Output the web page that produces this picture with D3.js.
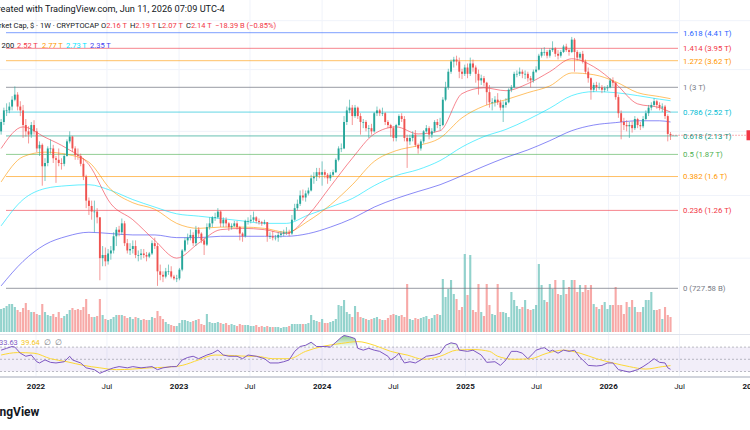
<!DOCTYPE html>
<html>
<head>
<meta charset="utf-8">
<style>
  body { margin: 0; background: #ffffff; }
  svg text { font-family: Roboto, "Noto Sans", sans-serif; }
</style>
<script src="https://d3js.org/d3.v7.min.js"></script>
</head>
<body>
<div id="chart"></div>
<script>

// CRYPTOCAP:TOTAL weekly, values in trillions of $
var firstWeek = "2021-10-04";
var firstOpen = 2.20;

var closes = [
2.35,2.55,2.55,2.62,2.75,2.85,2.62,2.55,2.30,2.20,
2.15,2.30,2.20,1.95,2.00,1.72,1.76,1.95,1.95,1.82,
1.80,1.76,1.75,1.85,2.05,2.12,1.95,1.86,1.85,1.75,
1.60,1.35,1.30,1.25,1.25,1.20,0.90,0.92,0.88,0.93,
0.95,1.05,1.10,1.08,1.15,1.00,0.95,0.96,0.98,0.92,
0.92,0.93,0.92,0.91,0.93,1.00,0.98,0.82,0.80,0.79,
0.82,0.82,0.79,0.78,0.78,0.83,0.95,1.02,1.04,1.06,
1.00,1.10,1.07,1.02,0.99,1.12,1.15,1.20,1.20,1.25,
1.15,1.18,1.15,1.12,1.13,1.15,1.12,1.07,1.05,1.17,
1.17,1.18,1.20,1.17,1.16,1.15,1.16,1.05,1.05,1.04,
1.04,1.06,1.07,1.08,1.08,1.07,1.18,1.28,1.32,1.40,
1.38,1.42,1.45,1.58,1.60,1.65,1.62,1.65,1.62,1.58,
1.62,1.65,1.80,1.95,1.95,2.35,2.55,2.60,2.45,2.60,
2.45,2.35,2.35,2.25,2.25,2.20,2.50,2.55,2.50,2.50,
2.35,2.30,2.25,2.10,2.30,2.45,2.40,2.10,2.05,2.10,
2.15,2.00,1.95,2.05,2.20,2.25,2.15,2.20,2.35,2.30,
2.30,2.75,3.00,3.35,3.60,3.65,3.60,3.35,3.30,3.45,
3.30,3.55,3.45,3.30,3.15,3.20,3.10,2.90,2.70,2.70,
2.75,2.70,2.60,2.65,2.70,2.95,3.00,3.30,3.30,3.35,
3.30,3.30,3.20,3.15,3.35,3.40,3.75,3.85,3.85,3.75,
3.90,3.95,3.80,3.75,3.85,4.00,3.90,3.85,4.20,3.85,
3.70,3.80,3.60,3.35,3.20,2.95,3.05,3.00,3.00,2.95,
2.98,3.00,3.15,3.10,2.80,2.50,2.35,2.30,2.28,2.30,
2.25,2.40,2.30,2.28,2.40,2.50,2.60,2.65,2.72,2.65,
2.60,2.62,2.45,2.16,2.14];

var highs = [
2.40,2.60,2.68,2.70,2.82,3.02,2.90,2.72,2.65,2.40,
2.28,2.35,2.38,2.25,2.05,2.02,1.82,1.98,2.08,2.00,
1.85,1.95,1.82,1.88,2.08,2.20,2.13,1.98,1.95,1.88,
1.82,1.62,1.38,1.35,1.35,1.28,1.20,0.98,0.97,0.96,
0.98,1.08,1.12,1.13,1.19,1.17,1.03,1.00,1.02,1.02,
0.95,0.96,0.96,0.94,0.94,1.02,1.04,1.00,0.86,0.82,
0.84,0.86,0.85,0.80,0.80,0.84,0.96,1.04,1.07,1.10,
1.08,1.13,1.12,1.08,1.04,1.15,1.20,1.21,1.24,1.28,
1.26,1.20,1.20,1.16,1.15,1.17,1.17,1.13,1.08,1.18,
1.20,1.22,1.25,1.21,1.19,1.17,1.18,1.16,1.08,1.09,
1.06,1.08,1.09,1.10,1.12,1.10,1.22,1.32,1.36,1.45,
1.46,1.45,1.48,1.62,1.65,1.70,1.70,1.78,1.68,1.64,
1.65,1.68,1.82,1.98,2.02,2.45,2.62,2.75,2.65,2.65,
2.62,2.50,2.40,2.38,2.30,2.32,2.52,2.62,2.58,2.60,
2.52,2.38,2.32,2.28,2.32,2.48,2.50,2.45,2.15,2.15,
2.20,2.22,2.02,2.08,2.22,2.30,2.28,2.25,2.38,2.40,
2.42,2.80,3.12,3.42,3.65,3.72,3.75,3.70,3.42,3.52,
3.55,3.70,3.65,3.50,3.40,3.28,3.25,3.12,3.05,2.78,
2.82,2.88,2.75,2.72,2.78,2.98,3.05,3.35,3.38,3.45,
3.40,3.38,3.35,3.25,3.40,3.48,3.80,3.95,3.98,3.90,
3.95,4.15,3.98,3.90,3.90,4.05,4.08,3.95,4.28,4.25,
3.90,3.85,3.88,3.65,3.45,3.22,3.10,3.12,3.10,3.05,
3.02,3.05,3.20,3.22,3.12,2.85,2.55,2.42,2.38,2.35,
2.36,2.45,2.42,2.35,2.45,2.55,2.65,2.70,2.78,2.75,
2.70,2.68,2.65,2.48,2.19];

var lows = [
2.15,2.30,2.45,2.50,2.55,2.72,2.55,2.45,2.10,2.12,
2.02,2.10,2.15,1.90,1.85,1.50,1.55,1.72,1.88,1.76,
1.53,1.72,1.68,1.72,1.84,2.02,1.90,1.80,1.80,1.72,
1.56,1.28,1.22,1.18,1.08,1.15,0.77,0.85,0.85,0.86,
0.89,0.93,0.98,1.05,1.06,0.98,0.93,0.92,0.93,0.90,
0.88,0.89,0.90,0.88,0.90,0.92,0.96,0.74,0.77,0.76,
0.78,0.80,0.78,0.77,0.76,0.77,0.82,0.94,0.99,1.02,
0.98,0.98,1.04,1.00,0.92,0.98,1.10,1.12,1.17,1.19,
1.12,1.12,1.12,1.09,1.10,1.12,1.10,1.02,1.01,1.04,
1.14,1.15,1.16,1.15,1.14,1.13,1.14,1.01,1.03,1.02,
1.02,1.01,1.04,1.05,1.06,1.05,1.06,1.17,1.26,1.30,
1.35,1.34,1.40,1.44,1.52,1.55,1.58,1.50,1.58,1.52,
1.55,1.60,1.64,1.78,1.90,1.94,2.30,2.50,2.30,2.42,
2.40,2.15,2.25,2.20,2.10,2.15,2.18,2.45,2.45,2.45,
2.30,2.25,2.12,2.05,2.05,2.28,2.35,2.05,1.70,2.00,
2.05,1.97,1.88,1.92,2.02,2.18,2.08,2.10,2.18,2.25,
2.22,2.28,2.72,2.95,3.30,3.45,3.50,3.20,3.18,3.25,
3.20,3.25,3.35,3.10,2.85,3.05,3.02,2.65,2.60,2.55,
2.62,2.65,2.55,2.35,2.60,2.68,2.90,2.98,3.22,3.25,
3.20,3.18,3.12,3.00,3.10,3.32,3.38,3.70,3.75,3.68,
3.70,3.85,3.72,3.65,3.70,3.82,3.85,3.75,3.82,3.35,
3.62,3.65,3.55,3.30,3.10,2.75,2.90,2.92,2.95,2.88,
2.90,2.92,2.98,3.02,2.75,2.42,2.08,2.22,2.20,2.10,
2.18,2.22,2.25,2.22,2.25,2.38,2.45,2.55,2.62,2.58,
2.55,2.52,2.40,2.05,2.07];

// weekly volume, tens of billions of $
var volumes = [
23,24,26,28,28,25,22,20,24,29,
22,20,20,18,17,28,20,17,16,18,
15,20,14,16,18,22,24,22,23,22,
25,33,18,15,15,16,33,17,13,12,
13,15,17,17,17,16,14,15,13,15,
14,12,13,12,12,15,14,21,16,13,
10,8,7,6,6,9,12,12,11,10,
11,12,13,8,7,18,10,9,9,10,
9,8,9,7,8,7,6,8,7,7,
7,6,6,7,5,6,5,6,5,5,
5,5,4,5,5,6,8,8,8,8,
8,8,9,17,12,11,10,13,9,9,
10,11,13,27,26,32,20,18,15,26,
20,15,14,13,12,13,14,15,13,12,
12,14,17,18,17,16,17,15,48,13,
12,14,13,14,15,16,13,14,17,18,
17,53,35,43,52,38,33,22,25,78,
37,77,22,20,48,20,16,48,27,18,
17,48,20,20,19,15,40,32,26,23,
25,32,23,22,23,27,68,47,32,30,
48,43,52,38,37,52,38,45,52,52,
40,47,40,47,42,47,28,25,23,27,
30,23,27,27,45,27,27,18,30,25,
32,25,20,20,25,32,32,40,22,22,
23,13,25,17,15];

// moving averages, read every 8 weeks (week number from firstWeek)
var maWeeks = [0,8,16,24,32,40,48,56,64,72,80,88,96,104,112,120,128,136,144,152,160,168,176,184,192,200,208,216,224,232,240,244];
var sma20  = [1.95,2.27,2.11,1.95,1.74,1.32,1.18,1.02,0.90,1.00,1.10,1.11,1.10,1.07,1.22,1.49,1.82,2.16,2.27,2.16,2.21,2.87,2.99,2.93,3.08,3.35,3.67,3.47,3.08,2.67,2.60,2.52];
var sma50  = [1.54,1.84,1.90,1.87,1.77,1.46,1.33,1.27,1.15,1.11,1.12,1.12,1.11,1.08,1.17,1.31,1.51,1.78,1.92,1.99,2.10,2.42,2.63,2.75,2.89,3.03,3.32,3.28,3.12,2.89,2.81,2.77];
var sma100 = [1.13,1.36,1.47,1.50,1.51,1.45,1.36,1.29,1.23,1.21,1.19,1.17,1.15,1.15,1.22,1.29,1.37,1.50,1.61,1.68,1.79,1.97,2.12,2.23,2.39,2.59,2.83,2.91,2.89,2.83,2.76,2.73];
var sma200 = [0.74,0.88,0.99,1.05,1.08,1.07,1.06,1.06,1.04,1.04,1.05,1.05,1.05,1.05,1.07,1.12,1.19,1.29,1.37,1.44,1.51,1.61,1.72,1.83,1.93,2.06,2.21,2.30,2.34,2.37,2.37,2.35];

// RSI 14 and its SMA, [week, value]
var rsi = [[0,65],[2,68],[4,71],[5,70],[7,60],[9,55],[11,57],[13,46],[14,44],[16,49],[18,45],[20,44],[23,46],[25,55],[26,49],[29,44],[31,36],[34,33],[36,27],[38,31],[41,36],[43,38],[46,36],[48,38],[51,36],[53,37],[55,38],[57,33],[59,36],[62,38],[64,38],[66,49],[68,53],[70,55],[72,51],[75,57],[77,60],[79,65],[81,57],[83,55],[86,55],[88,51],[90,57],[93,55],[96,51],[98,44],[101,44],[103,46],[105,49],[107,63],[109,71],[111,73],[113,78],[115,71],[118,71],[120,70],[122,78],[124,86],[125,89],[127,87],[129,84],[130,68],[132,65],[134,68],[136,65],[138,63],[141,55],[142,49],[144,55],[145,60],[146,51],[147,44],[149,46],[151,44],[153,49],[155,55],[158,57],[160,60],[162,73],[164,77],[166,75],[167,65],[170,63],[172,65],[175,57],[177,45],[180,46],[182,40],[184,49],[186,63],[188,63],[190,60],[192,51],[194,60],[195,65],[197,68],[198,69],[200,63],[201,65],[203,60],[205,65],[207,63],[209,65],[211,53],[212,49],[214,40],[217,39],[219,40],[221,44],[223,44],[225,33],[227,31],[229,29],[232,33],[234,38],[236,44],[238,51],[240,45],[242,44],[243,36],[244,33.63]];
var rsiMa = [[0,57],[6,61],[12,60],[18,51],[24,46],[30,40],[36,36],[42,33],[48,34],[54,36],[60,37],[66,40],[72,49],[78,57],[85,56],[90,55],[93,55],[99,51],[105,51],[111,63],[117,71],[124,76],[130,79],[136,73],[142,63],[148,57],[154,50],[160,55],[166,65],[172,66],[178,63],[181,55],[187,50],[193,51],[199,60],[205,65],[211,60],[217,51],[223,44],[229,38],[235,34],[241,38],[244,39.64]];

// fibonacci retracement
var fibLevels = ["1.618","1.414","1.272","1","0.786","0.618","0.5","0.382","0.236","0"];
var fibValues = [4.41,3.95,3.62,3,2.52,2.13,1.87,1.6,1.26,0.72758];
var fibColors = ["#2962ff","#f23645","#ff9800","#787b86","#00bcd4","#089981","#4caf50","#ff9800","#f23645","#787b86"];

var tickDates  = ["2022-01-01","2022-07-01","2023-01-01","2023-07-01","2024-01-01","2024-07-01","2025-01-01","2025-07-01","2026-01-01","2026-07-01","2027-01-01"];
var tickLabels = ["2022","Jul","2023","Jul","2024","Jul","2025","Jul","2026","Jul","2027"];
var priceGrid = [4.8, 3.4, 2.2, 1.4, 0.9];

var maValues = ["2.52 T","2.77 T","2.73 T","2.35 T"];
var maColors = ["#f23645","#ff9800","#00e5ff","#3c3cf0"];

var W = 750, H = 430;
var up = "#26a69a", down = "#ef5350";
var fs = 7.5;

var svg = d3.select("#chart").append("svg")
    .attr("width", W)
    .attr("height", H);

var parse = d3.utcParse("%Y-%m-%d");
var t0 = parse(firstWeek);
function weekDate(i) { return d3.utcDay.offset(t0, 7 * i); }

var x = d3.scaleUtc()
    .domain([parse("2022-01-01"), parse("2026-01-01")])
    .range([36, 608.6]);
var y = d3.scaleLog()
    .domain([0.72758, 4.41])
    .range([288.3, 32.7]);
var yVol = d3.scaleLinear().domain([0, 80]).range([332, 252]);
var yRsi = d3.scaleLinear().domain([0, 100]).range([389.8, 328.8]);

var bars = closes.map(function(c, i) {
    return { date: weekDate(i), o: i ? closes[i - 1] : firstOpen, h: highs[i], l: lows[i], c: c, v: volumes[i] };
});

var defs = svg.append("defs");
defs.append("clipPath").attr("id", "clipMain").append("rect")
    .attr("x", 0).attr("y", 0).attr("width", W).attr("height", 333);
defs.append("clipPath").attr("id", "clipRsi").append("rect")
    .attr("x", 0).attr("y", 335).attr("width", W).attr("height", 41);
defs.append("clipPath").attr("id", "clipOB").append("rect")
    .attr("x", 0).attr("y", 335).attr("width", W).attr("height", yRsi(70) - 335);
defs.append("clipPath").attr("id", "clipOS").append("rect")
    .attr("x", 0).attr("y", yRsi(30)).attr("width", W).attr("height", 376 - yRsi(30));

var gOB = defs.append("linearGradient").attr("id", "gradOB")
    .attr("gradientUnits", "userSpaceOnUse").attr("x1", 0).attr("x2", 0)
    .attr("y1", yRsi(100)).attr("y2", yRsi(70));
gOB.append("stop").attr("offset", 0).attr("stop-color", "#4caf50").attr("stop-opacity", 1);
gOB.append("stop").attr("offset", 1).attr("stop-color", "#4caf50").attr("stop-opacity", 0);
var gOS = defs.append("linearGradient").attr("id", "gradOS")
    .attr("gradientUnits", "userSpaceOnUse").attr("x1", 0).attr("x2", 0)
    .attr("y1", yRsi(30)).attr("y2", yRsi(0));
gOS.append("stop").attr("offset", 0).attr("stop-color", "#f23645").attr("stop-opacity", 0);
gOS.append("stop").attr("offset", 1).attr("stop-color", "#f23645").attr("stop-opacity", 1);

// grid
var grid = svg.append("g");
grid.selectAll(".vg").data(tickDates).enter().append("line")
    .attr("x1", d => x(parse(d))).attr("x2", d => x(parse(d)))
    .attr("y1", 0).attr("y2", 376)
    .attr("stroke", "#f0f3fa").attr("stroke-width", 1);
grid.selectAll(".hg").data(priceGrid).enter().append("line")
    .attr("x1", 0).attr("x2", W)
    .attr("y1", d => y(d)).attr("y2", d => y(d))
    .attr("stroke", "#f0f3fa").attr("stroke-width", 1);

var main = svg.append("g").attr("clip-path", "url(#clipMain)");

// volume
main.append("g").selectAll("rect").data(bars).enter().append("rect")
    .attr("x", d => x(d.date) - 1.05)
    .attr("width", 2.1)
    .attr("y", d => yVol(d.v))
    .attr("height", d => yVol(0) - yVol(d.v))
    .attr("fill", d => d.c >= d.o ? up : down)
    .attr("opacity", 0.5);

// fib levels
var fib = main.append("g");
fibValues.forEach(function(v, i) {
    fib.append("line")
        .attr("x1", 6).attr("x2", 678)
        .attr("y1", y(v)).attr("y2", y(v))
        .attr("stroke", fibColors[i])
        .attr("stroke-width", fibLevels[i] == "1" || fibLevels[i] == "0" ? 1.3 : 1)
        .attr("opacity", 0.6);
    var lab = v >= 1 ? v + " T" : (v * 1000).toFixed(2) + " B";
    fib.append("text")
        .attr("x", 683).attr("y", y(v) + 2.8)
        .attr("font-size", 7.8)
        .attr("fill", fibColors[i])
        .text(fibLevels[i] + " (" + lab + ")");
});

// moving averages
function addMa(vals, col) {
    main.append("path")
        .datum(vals)
        .attr("fill", "none")
        .attr("stroke", col)
        .attr("stroke-width", 1)
        .attr("opacity", 0.6)
        .attr("d", d3.line()
            .curve(d3.curveMonotoneX)
            .x((d, i) => x(weekDate(maWeeks[i])))
            .y(d => y(d)));
}
addMa(sma200, maColors[3]);
addMa(sma100, maColors[2]);
addMa(sma50, maColors[1]);
addMa(sma20, maColors[0]);

// candles
var cg = main.append("g");
cg.selectAll("line").data(bars).enter().append("line")
    .attr("x1", d => x(d.date)).attr("x2", d => x(d.date))
    .attr("y1", d => y(d.h)).attr("y2", d => y(d.l))
    .attr("stroke", d => d.c >= d.o ? up : down)
    .attr("stroke-width", 0.6);
cg.selectAll("rect").data(bars).enter().append("rect")
    .attr("x", d => x(d.date) - 0.95)
    .attr("width", 1.9)
    .attr("y", d => y(Math.max(d.o, d.c)))
    .attr("height", d => Math.max(0.7, Math.abs(y(d.o) - y(d.c))))
    .attr("fill", d => d.c >= d.o ? up : down);

// last price line
var last = bars[bars.length - 1];
svg.append("line")
    .attr("x1", x(last.date) + 2).attr("x2", W)
    .attr("y1", y(last.c)).attr("y2", y(last.c))
    .attr("stroke", "#f23645").attr("stroke-width", 0.8)
    .attr("stroke-dasharray", "1,2");
svg.append("rect")
    .attr("x", 746.5).attr("y", y(last.c) - 5).attr("width", 8).attr("height", 10)
    .attr("fill", "#f23645");

// pane separators
svg.append("line").attr("x1", 0).attr("x2", W).attr("y1", 334.5).attr("y2", 334.5)
    .attr("stroke", "#e0e3eb").attr("stroke-width", 1);
svg.append("line").attr("x1", 0).attr("x2", W).attr("y1", 377).attr("y2", 377)
    .attr("stroke", "#d1d4dc").attr("stroke-width", 2);

// RSI pane
var rp = svg.append("g").attr("clip-path", "url(#clipRsi)");
rp.append("rect")
    .attr("x", 0).attr("width", W)
    .attr("y", yRsi(70)).attr("height", yRsi(30) - yRsi(70))
    .attr("fill", "#7e57c2").attr("opacity", 0.1);
[70, 50, 30].forEach(function(l) {
    rp.append("line")
        .attr("x1", 0).attr("x2", W)
        .attr("y1", yRsi(l)).attr("y2", yRsi(l))
        .attr("stroke", "#787b86").attr("stroke-width", 0.8)
        .attr("stroke-dasharray", "2,2").attr("opacity", 0.6);
});
var rx = d => x(weekDate(d[0]));
rp.append("path").datum(rsi)
    .attr("clip-path", "url(#clipOB)")
    .attr("fill", "url(#gradOB)")
    .attr("d", d3.area().x(rx).y0(yRsi(70)).y1(d => yRsi(d[1])));
rp.append("path").datum(rsi)
    .attr("clip-path", "url(#clipOS)")
    .attr("fill", "url(#gradOS)")
    .attr("d", d3.area().x(rx).y0(yRsi(30)).y1(d => yRsi(d[1])));
rp.append("path").datum(rsiMa)
    .attr("fill", "none").attr("stroke", "#fdd835").attr("stroke-width", 1)
    .attr("d", d3.line().curve(d3.curveMonotoneX).x(rx).y(d => yRsi(d[1])));
rp.append("path").datum(rsi)
    .attr("fill", "none").attr("stroke", "#7e57c2").attr("stroke-width", 1)
    .attr("d", d3.line().x(rx).y(d => yRsi(d[1])));

// time axis
svg.append("g").selectAll("text").data(tickDates).enter().append("text")
    .attr("x", d => x(parse(d)))
    .attr("y", 388.8)
    .attr("text-anchor", "middle")
    .attr("font-size", 8)
    .attr("fill", "#131722")
    .attr("font-weight", (d, i) => tickLabels[i] == "Jul" ? 400 : 700)
    .text((d, i) => tickLabels[i]);

// texts that start left of the picture edge
function cutText(str, visible, xVis, yBase, fill, size, weight) {
    var t = svg.append("text").attr("y", yBase).attr("font-size", size)
        .attr("font-weight", weight || 400).attr("fill", fill).text(str);
    var tmp = svg.append("text").attr("font-size", size)
        .attr("font-weight", weight || 400).text(visible);
    var full = t.node().getComputedTextLength(), vis = tmp.node().getComputedTextLength();
    tmp.remove();
    t.attr("x", xVis - (full - vis));
    return t;
}

cutText("Created with TradingView.com, Jun 11, 2026 07:09 UTC-4", "eated with TradingView.com, Jun 11, 2026 07:09 UTC-4", 0.5, 12.2, "#131722", 9.2);
cutText("Crypto Total Market Cap, $ · 1W · CRYPTOCAP", "ket Cap, $ · 1W · CRYPTOCAP", 1.5, 27.8, "#131722", fs);

var ohlc = [["O", "2.16 T", 101], ["H", "2.19 T", 130], ["L", "2.07 T", 158], ["C", "2.14 T", 186]];
ohlc.forEach(function(d) {
    var t = svg.append("text").attr("x", d[2]).attr("y", 27.8).attr("font-size", fs);
    t.append("tspan").attr("fill", "#131722").text(d[0]);
    t.append("tspan").attr("fill", "#f23645").text(d[1]);
});
svg.append("text").attr("x", 215).attr("y", 27.8).attr("font-size", fs)
    .attr("fill", "#f23645").text("−18.39 B (−0.85%)");

cutText("MA Ribbon 20 50 100 200", "200", 1.5, 47.8, "#131722", fs);
var maX = [17, 42, 66, 90];
maValues.forEach(function(v, i) {
    svg.append("text").attr("x", maX[i]).attr("y", 47.8).attr("font-size", fs)
        .attr("fill", maColors[i]).text(v);
});

cutText("RSI 14 close SMA 14 33.63", "33.63", -1, 344.8, "#7e57c2", fs);
svg.append("text").attr("x", 21).attr("y", 344.8).attr("font-size", fs)
    .attr("fill", "#f5c518").text("39.64");
svg.append("text").attr("x", 44).attr("y", 344.8).attr("font-size", fs)
    .attr("fill", "#787b86").text("∅");
svg.append("text").attr("x", 55).attr("y", 344.8).attr("font-size", fs)
    .attr("fill", "#787b86").text("∅");

cutText("TradingView", "ngView", -0.5, 416, "#131722", 12, 700);

</script>
</body>
</html>
